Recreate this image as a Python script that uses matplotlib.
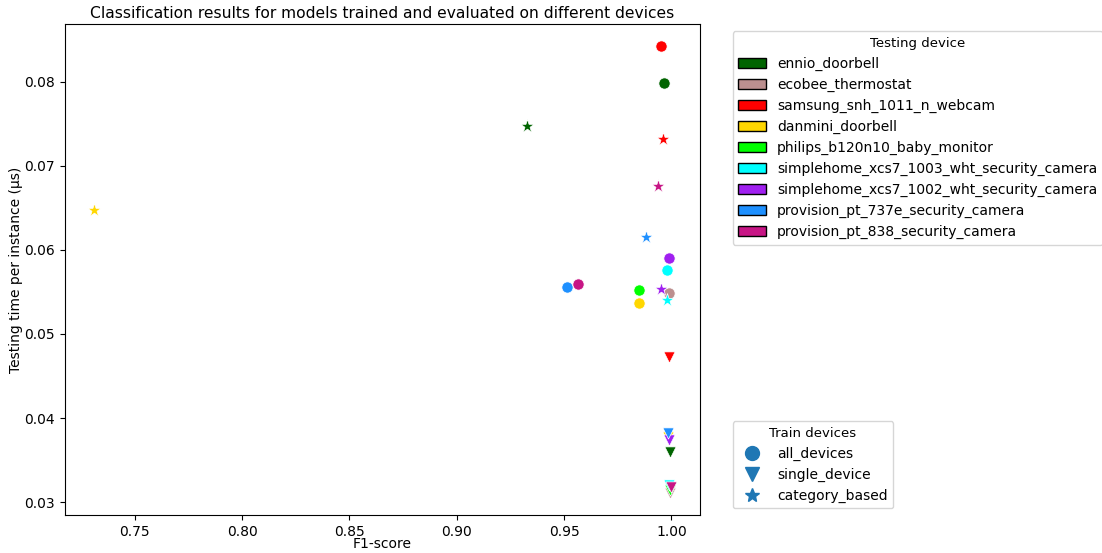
import matplotlib
matplotlib.use("Agg")
import matplotlib.pyplot as plt
from matplotlib.patches import Patch
from matplotlib.lines import Line2D
import numpy as np

devices = ["ennio_doorbell", "ecobee_thermostat", "samsung_snh_1011_n_webcam",
           "danmini_doorbell", "philips_b120n10_baby_monitor",
           "simplehome_xcs7_1003_wht_security_camera",
           "simplehome_xcs7_1002_wht_security_camera",
           "provision_pt_737e_security_camera", "provision_pt_838_security_camera"]
colors = ["darkgreen", "rosybrown", "red", "gold", "lime", "cyan",
          "#A020F0", "dodgerblue", "mediumvioletred"]

train_modes = ["all_devices", "single_device", "category_based"]
markers = ["o", "v", "*"]

# F1-score and testing time per device, for each training mode (None = not shown)
f1_all = [0.9967, 0.9989, 0.9953, 0.9851, 0.9851, 0.9981, 0.9989, 0.9515, 0.9566]
time_all = [0.0798, 0.0549, 0.0842, 0.0537, 0.0552, 0.0576, 0.0590, 0.0556, 0.0559]

f1_single = [0.9995, 0.9993, 0.9991, 0.9985, 0.9995, 0.9989, 0.9989, 0.9985, 1.0000]
time_single = [0.0360, 0.0311, 0.0473, 0.0378, 0.0315, 0.0320, 0.0374, 0.0382, 0.0318]

f1_cat = [0.9328, None, 0.9963, 0.7308, None, 0.9979, 0.9951, 0.9881, 0.9938]
time_cat = [0.0747, None, 0.0732, 0.0647, None, 0.0541, 0.0554, 0.0615, 0.0676]

fig = plt.figure(figsize=(11.02, 5.53), dpi=100)
W, H = 1102, 553
ax = fig.add_axes([64.7 / W, 1 - 515.3 / H, (700.3 - 64.7) / W, (515.3 - 24) / H])

series = [(f1_all, time_all), (f1_single, time_single), (f1_cat, time_cat)]
sizes = [65, 65, 100]
for (fx, ty), mk, sz in zip(series, markers, sizes):
    for i, (x, y) in enumerate(zip(fx, ty)):
        if x is None:
            continue
        ax.scatter([x], [y], color=colors[i], marker=mk, s=sz,
                   edgecolors="white", linewidths=0.5, zorder=3)

ax.set_title("Classification results for models trained and evaluated on different devices",
             fontsize=11.2, pad=4)
ax.set_xlabel("F1-score", fontsize=10, labelpad=-1.5)
ax.set_ylabel("Testing time per instance (μs)", fontsize=10, labelpad=1)
ax.tick_params(labelsize=10)
ax.set_xticks([0.75, 0.80, 0.85, 0.90, 0.95, 1.00])
ax.set_yticks([0.03, 0.04, 0.05, 0.06, 0.07, 0.08])

dev_handles = [Patch(facecolor=c, edgecolor="black", label=d) for d, c in zip(devices, colors)]
leg1 = ax.legend(handles=dev_handles, title="Testing device", loc="upper left",
                 bbox_to_anchor=(1.04, 1), fontsize=10, title_fontsize=9.5,
                 handleheight=0.75)
ax.add_artist(leg1)

mode_handles = [Line2D([], [], linestyle="none", marker=m, color="#1f77b4",
                       markersize=ms, label=t)
                for m, t, ms in zip(markers, train_modes, [10, 10, 10])]
ax.legend(handles=mode_handles, title="Train devices", loc="lower left",
          bbox_to_anchor=(1.04, 0), fontsize=10, title_fontsize=9.5)

fig.savefig("out.png", dpi=100)
